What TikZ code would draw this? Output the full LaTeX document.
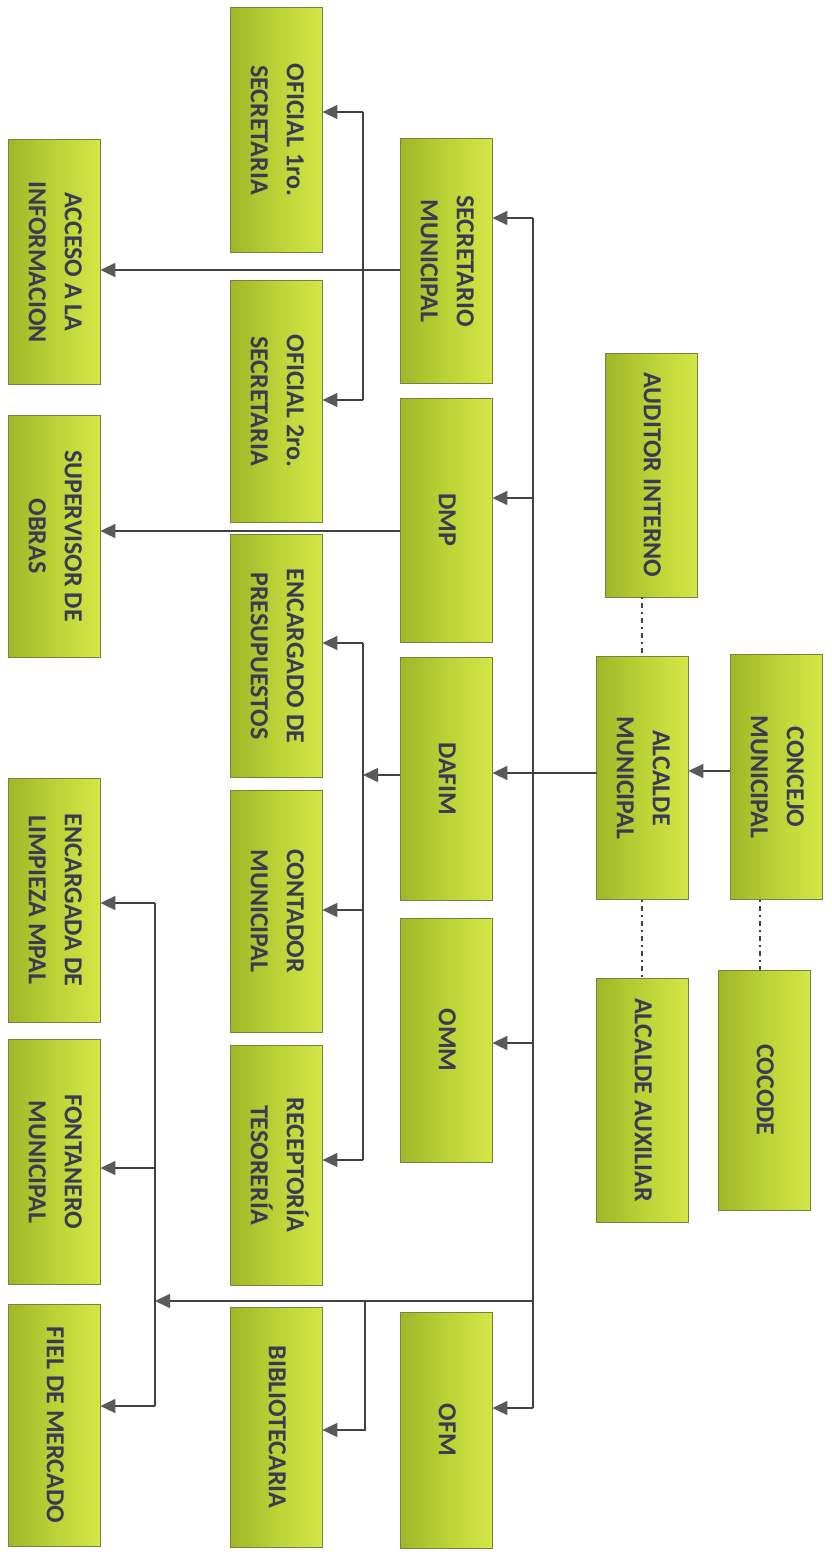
\documentclass[tikz,border=0pt]{standalone}
\usepackage{fontspec}
\setmainfont{Carlito}
\usetikzlibrary{arrows.meta}
\definecolor{boxL}{RGB}{160,182,40}
\definecolor{boxM}{RGB}{186,210,54}
\definecolor{boxR}{RGB}{212,230,70}
\definecolor{boxD}{RGB}{120,130,70}
\definecolor{txt}{RGB}{58,58,82}
\definecolor{ln}{RGB}{65,65,65}
\definecolor{tipc}{RGB}{90,90,90}
\newcommand\lbl[1]{\rotatebox{-90}{\fontsize{26}{36}\selectfont\bfseries\begin{tabular}{@{}c@{}}#1\end{tabular}}}
\begin{document}
\begin{tikzpicture}[x=1pt,y=-1pt,
  box/.style={draw=boxD, line width=0.8pt, left color=boxL, right color=boxR, middle color=boxM,
    minimum width=92pt, minimum height=244pt, inner sep=0pt, text=txt},
  arr/.style={draw=ln, line width=1.6pt, -{Triangle[length=15pt,width=14pt,fill=tipc,color=tipc]}},
  ln/.style={draw=ln, line width=1.6pt},
  dot/.style={draw=ln, line width=2pt, dash pattern=on 2pt off 4pt on 5pt off 4pt}]
\useasboundingbox[fill=white] (0,0) rectangle (832,1552);
% column 1
\node[box, minimum height=245pt] (concejo) at (776,777) {\lbl{CONCEJO\\MUNICIPAL}};
\node[box, minimum height=240pt] (cocode) at (764,1090) {\lbl{COCODE}};
% column 2
\node[box] (auditor) at (651,475) {\lbl{AUDITOR INTERNO}};
\node[box, minimum height=243pt] (alcalde) at (642,778) {\lbl{ALCALDE\\MUNICIPAL}};
\node[box] (auxiliar) at (642,1100) {\lbl{ALCALDE AUXILIAR}};
% column 3
\node[box, minimum height=245pt] (sec) at (446,261) {\lbl{SECRETARIO\\MUNICIPAL}};
\node[box] (dmp) at (446,520) {\lbl{DMP}};
\node[box, minimum height=243pt] (dafim) at (446,779) {\lbl{DAFIM}};
\node[box] (omm) at (446,1040) {\lbl{OMM}};
\node[box, minimum height=236pt] (ofm) at (446,1430) {\lbl{OFM}};
% column 4
\node[box, minimum height=245pt] (of1) at (276,130) {\lbl{OFICIAL 1ro.\\SECRETARIA}};
\node[box, minimum height=242pt] (of2) at (276,401) {\lbl{OFICIAL 2ro.\\SECRETARIA}};
\node[box, minimum height=243pt] (presup) at (276,656) {\lbl{ENCARGADO DE\\PRESUPUESTOS}};
\node[box, minimum height=242pt] (contador) at (276,911) {\lbl{CONTADOR\\MUNICIPAL}};
\node[box, minimum height=240pt] (recep) at (276,1165) {\lbl{RECEPTORÍA\\TESORERÍA}};
\node[box, minimum height=240pt] (biblio) at (276,1427) {\lbl{BIBLIOTECARIA}};
% column 5
\node[box, minimum height=245pt] (acceso) at (54,262) {\lbl{ACCESO A LA\\INFORMACION}};
\node[box, minimum height=242pt] (superv) at (54,536) {\lbl{SUPERVISOR DE\\OBRAS}};
\node[box] (limpieza) at (54,900) {\lbl{ENCARGADA DE\\LIMPIEZA MPAL}};
\node[box, minimum height=245pt] (fontanero) at (54,1162) {\lbl{FONTANERO\\MUNICIPAL}};
\node[box, minimum height=242pt] (fiel) at (54,1425) {\lbl{FIEL DE MERCADO}};
% dotted relations
\draw[dot] (auditor.south -| alcalde.north) -- (alcalde.north);
\draw[dot] (alcalde.south) -- (alcalde.south |- auxiliar.north);
\draw[dot] ([xshift=-16pt]concejo.south) -- ([xshift=-16pt]concejo.south |- cocode.north);
% concejo -> alcalde
\coordinate (k0) at (730,771);
\draw[arr] (k0) -- (k0 -| alcalde.east);
% alcalde -> dafim
\coordinate (a0) at (597,773);
\draw[arr] (a0) -- (a0 -| dafim.east);
% main bus
\coordinate (b1) at (533,218);
\coordinate (b2) at (533,498);
\coordinate (b3) at (533,1043);
\coordinate (b4) at (533,1408);
\coordinate (b5) at (533,1301);
\draw[ln] (b1) -- (b4);
\draw[arr] (b1) -- (b1 -| sec.east);
\draw[arr] (b2) -- (b2 -| dmp.east);
\draw[arr] (b3) -- (b3 -| omm.east);
\draw[arr] (b4) -- (b4 -| ofm.east);
% lower bus
\coordinate (c0) at (155,1301);
\coordinate (c1) at (155,903);
\coordinate (c2) at (155,1168);
\coordinate (c3) at (155,1406);
\draw[arr] (b5) -- (c0);
\draw[ln] (c1) -- (c3);
\draw[arr] (c1) -- (c1 -| limpieza.east);
\draw[arr] (c2) -- (c2 -| fontanero.east);
\draw[arr] (c3) -- (c3 -| fiel.east);
\coordinate (d1) at (365,1301);
\coordinate (d2) at (365,1430);
\draw[arr] (d1) -- (d2) -- (d2 -| biblio.east);
% dafim sub bus
\coordinate (e0) at (363,775);
\coordinate (e1) at (363,643);
\coordinate (e2) at (363,910);
\coordinate (e3) at (363,1160);
\draw[arr] (dafim.west |- e0) -- (e0);
\draw[ln] (e1) -- (e3);
\draw[arr] (e1) -- (e1 -| presup.east);
\draw[arr] (e2) -- (e2 -| contador.east);
\draw[arr] (e3) -- (e3 -| recep.east);
% secretario
\coordinate (s0) at (400,270);
\draw[arr] (s0) -- (s0 -| acceso.east);
\coordinate (f1) at (363,112);
\coordinate (f2) at (363,400);
\draw[ln] (f1) -- (f2);
\draw[arr] (f1) -- (f1 -| of1.east);
\draw[arr] (f2) -- (f2 -| of2.east);
% dmp -> supervisor
\coordinate (g0) at (400,531);
\draw[arr] (g0) -- (g0 -| superv.east);
\end{tikzpicture}
\end{document}
